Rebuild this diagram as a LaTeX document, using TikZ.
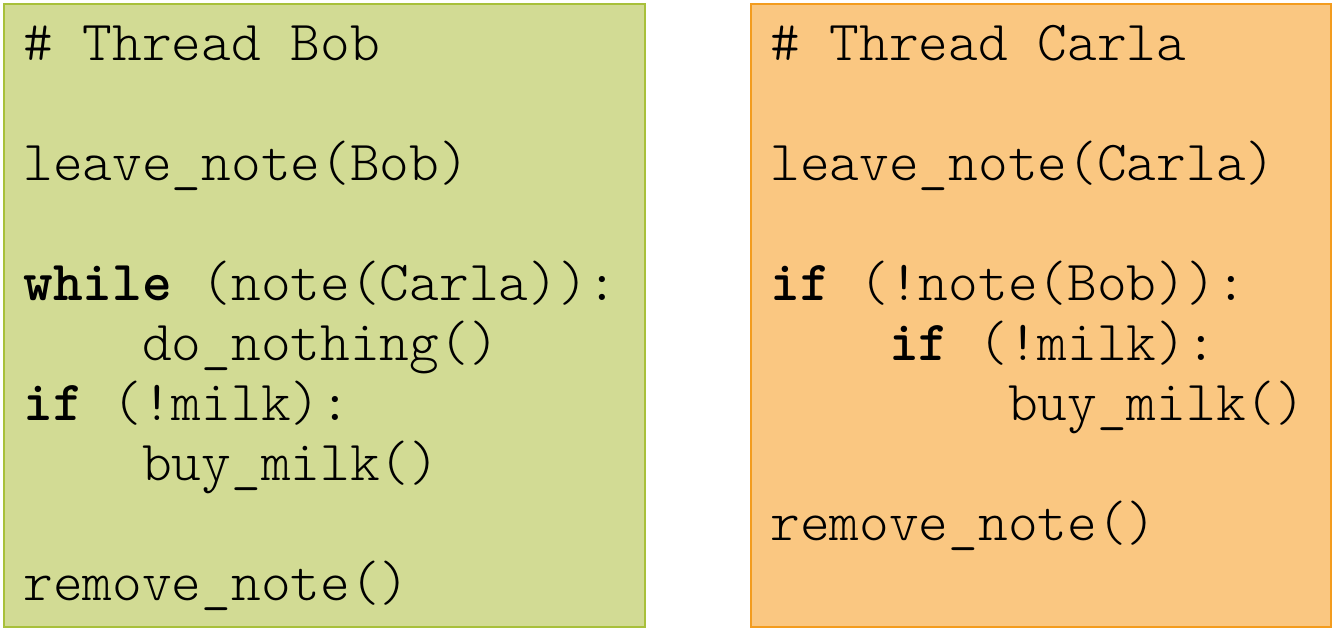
\documentclass[tikz,border=0pt]{standalone}
\usepackage{fontspec}
\setmonofont{lmmonolt10-regular.otf}[BoldFont=lmmonolt10-bold.otf]
\definecolor{bobfill}{RGB}{210,219,148}
\definecolor{bobline}{RGB}{168,192,58}
\definecolor{carlafill}{RGB}{250,199,129}
\definecolor{carlaline}{RGB}{243,156,30}
\begin{document}
\begin{tikzpicture}[x=0.5pt, y=-0.5pt,
  code/.style={anchor=base west, inner sep=0pt, font=\ttfamily\fontsize{28.3}{30}\selectfont}]
\useasboundingbox (0,0) rectangle (1336,632);
\draw[line width=1pt, draw=bobline, fill=bobfill] (4,4) rectangle (645,627);
\draw[line width=1pt, draw=carlaline, fill=carlafill] (751,4) rectangle (1331,627);

% thread Bob
\node[code] (b1) at (23,60) {\# Thread Bob};
\node[code] (b2) at (23,180) {leave\_note(Bob)};
\node[code] (b3) at (23,300) {\textbf{while} (note(Carla)):};
\node[code] (b4) at (23,360) {\ \ \ \ do\_nothing()};
\node[code] (b5) at (23,420) {\textbf{if} (!milk):};
\node[code] (b6) at (23,480) {\ \ \ \ buy\_milk()};
\node[code] (b7) at (23,600) {remove\_note()};

% thread Carla
\node[code] (c1) at (770,60) {\# Thread Carla};
\node[code] (c2) at (770,180) {leave\_note(Carla)};
\node[code] (c3) at (770,300) {\textbf{if} (!note(Bob)):};
\node[code] (c4) at (770,360) {\ \ \ \ \textbf{if} (!milk):};
\node[code] (c5) at (770,420) {\ \ \ \ \ \ \ \ buy\_milk()};
\node[code] (c6) at (770,540) {remove\_note()};
\end{tikzpicture}
\end{document}
